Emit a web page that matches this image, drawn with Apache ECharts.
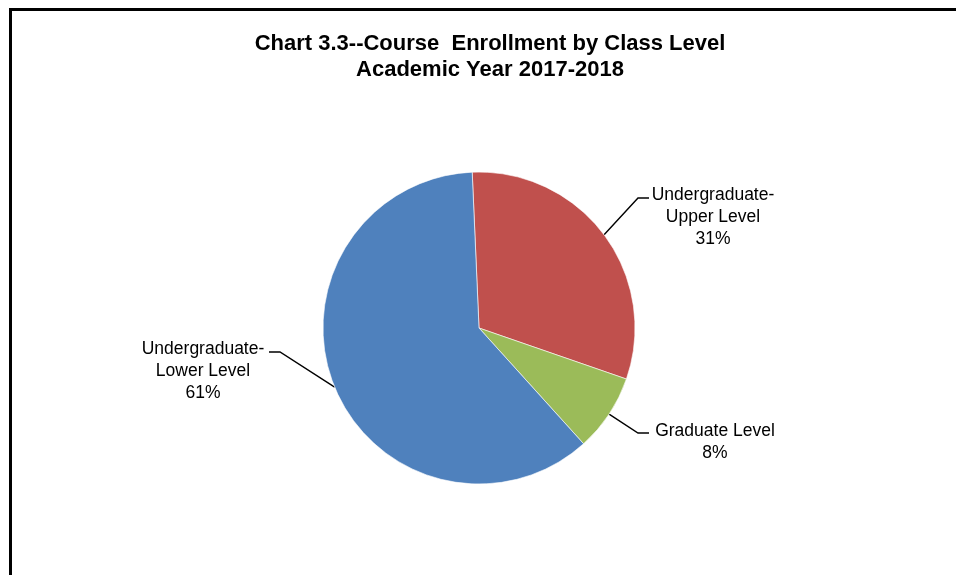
<!DOCTYPE html>
<html>
<head>
<meta charset="utf-8">
<script src="https://cdn.jsdelivr.net/npm/echarts@6/dist/echarts.min.js"></script>
<style>
  html, body { margin: 0; padding: 0; background: #fff; }
  #chart { width: 956px; height: 575px; }
</style>
</head>
<body>
<div id="chart"></div>
<script>
// enrollment share by class level (percent), clockwise from the top
const categories = ['Undergraduate-Upper Level', 'Graduate Level', 'Undergraduate-Lower Level'];
const shares = [31, 8, 61];
const colors = ['#C0504D', '#9BBB59', '#4F81BD'];

// where each label sits and where its leader line ends (screen px)
const labelSpots = [
  { x: 713, y: 217, endX: 649, endY: 198, side: -1 },
  { x: 715, y: 442, endX: 649, endY: 433, side: -1 },
  { x: 203, y: 371, endX: 269, endY: 352, side: 1 }
];

const chart = echarts.init(document.getElementById('chart'));

chart.setOption({
  animation: false,
  title: {
    text: 'Chart 3.3--Course  Enrollment by Class Level\nAcademic Year 2017-2018',
    left: 490,
    textAlign: 'center',
    top: 31,
    padding: 0,
    textStyle: {
      fontFamily: 'Liberation Sans, Arial, sans-serif',
      fontWeight: 'bold',
      fontSize: 22,
      lineHeight: 26,
      color: '#000'
    }
  },
  graphic: [{
    type: 'rect',
    shape: { x: 10.5, y: 9.5, width: 1000, height: 1000 },
    style: { fill: 'none', stroke: '#000', lineWidth: 3 },
    silent: true
  }],
  color: colors,
  series: [{
    type: 'pie',
    center: [479, 328],
    radius: 156,
    startAngle: 92.5,
    clockwise: true,
    percentPrecision: 0,
    itemStyle: { borderColor: '#fff', borderWidth: 0.6 },
    emphasis: { disabled: true },
    label: {
      show: true,
      position: 'outside',
      formatter: function (p) {
        return p.name.replace('-', '-\n') + '\n' + p.percent + '%';
      },
      fontFamily: 'Liberation Sans, Arial, sans-serif',
      fontSize: 17.5,
      lineHeight: 22,
      color: '#000',
      align: 'center'
    },
    labelLine: {
      show: true,
      lineStyle: { color: '#000', width: 1.4 }
    },
    labelLayout: function (params) {
      const s = labelSpots[params.dataIndex];
      const start = params.labelLinePoints ? params.labelLinePoints[0] : [s.endX, s.endY];
      return {
        x: s.x,
        y: s.y,
        align: 'center',
        verticalAlign: 'middle',
        labelLinePoints: [start, [s.endX + s.side * 11, s.endY], [s.endX, s.endY]]
      };
    },
    data: categories.map(function (name, i) {
      return { name: name, value: shares[i] };
    })
  }]
});
</script>
</body>
</html>
